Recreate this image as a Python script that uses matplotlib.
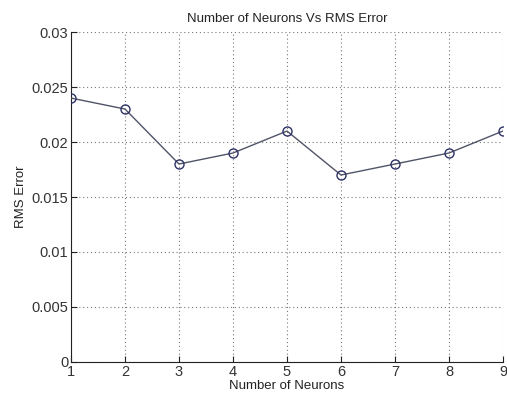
import matplotlib
matplotlib.use("Agg")
import matplotlib.pyplot as plt

neurons = [1, 2, 3, 4, 5, 6, 7, 8, 9]
rms_error = [0.024, 0.023, 0.018, 0.019, 0.021, 0.017, 0.018, 0.019, 0.021]
y_ticks = [0, 0.005, 0.01, 0.015, 0.02, 0.025, 0.03]
y_labels = ["0", "0.005", "0.01", "0.015", "0.02", "0.025", "0.03"]

plt.rcParams.update({
    "font.family": "Liberation Sans",
    "font.size": 10.5,
})

fig = plt.figure(figsize=(5.07, 3.96), dpi=100)
ax = fig.add_axes([0.140, 0.086, 0.852, 0.833])

ax.plot(neurons, rms_error, color="#505468", linewidth=1.0,
        marker="o", markersize=6.5, markerfacecolor="none",
        markeredgecolor="#2e3266", markeredgewidth=1.0, zorder=3)

ax.set_xlim(1, 9)
ax.set_ylim(0, 0.03)
ax.set_xticks(neurons)
ax.set_yticks(y_ticks)
ax.set_yticklabels(y_labels)
ax.tick_params(direction="in", length=4, color="#222222", labelcolor="#333333", pad=2)

# matlab-style dotted grid
ax.grid(True, linestyle=(0, (1, 2.5)), color="#777777", linewidth=0.8)
ax.set_axisbelow(True)
ax.spines[["top", "right"]].set_visible(False)
for s in ("left", "bottom"):
    ax.spines[s].set_color("#222222")

ax.set_title("Number of Neurons Vs RMS Error", fontsize=9.5, color="#222222", pad=7)
ax.set_xlabel("Number of Neurons", fontsize=9.5, color="#222222", labelpad=1)
ax.set_ylabel("RMS Error", fontsize=9.5, color="#222222", labelpad=3)

fig.savefig("out.png", dpi=100)
